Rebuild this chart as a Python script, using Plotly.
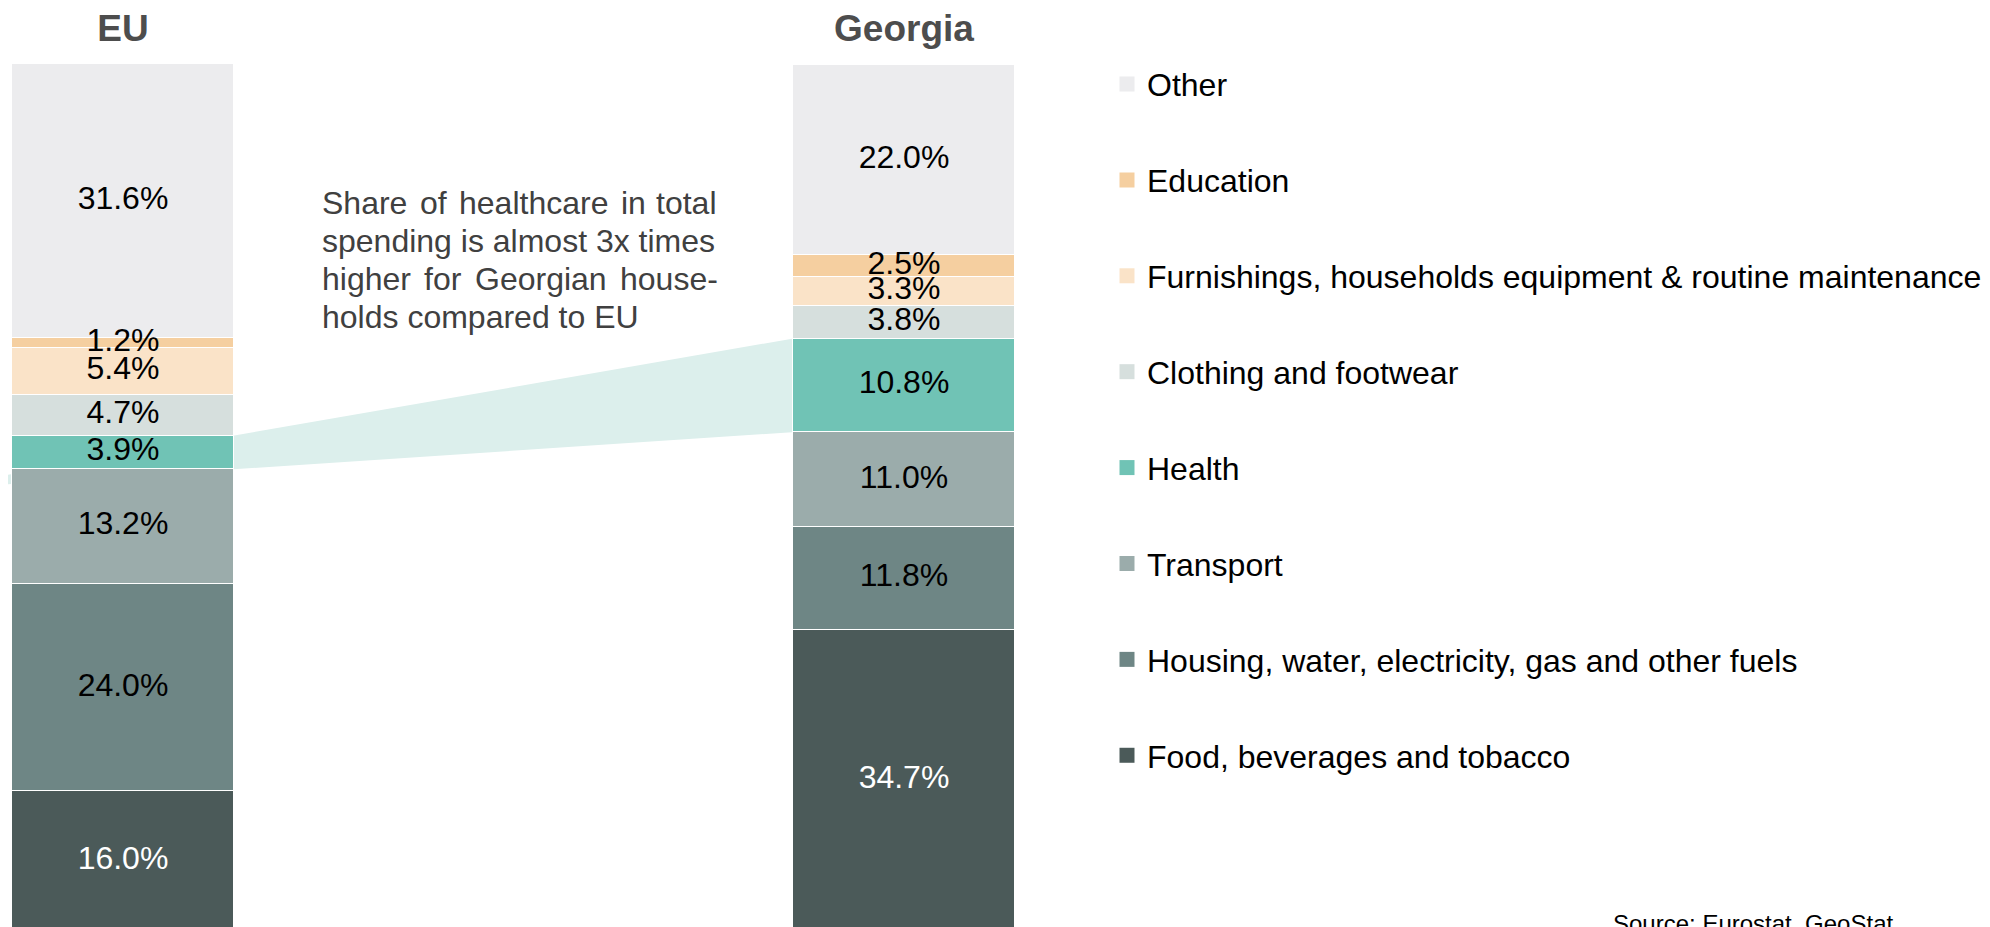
import plotly.graph_objects as go

# ---------------- data ----------------
regions = ["EU", "Georgia"]
series = [
    "Food, beverages and tobacco",
    "Housing, water, electricity, gas and other fuels",
    "Transport",
    "Health",
    "Clothing and footwear",
    "Furnishings, households equipment & routine maintenance",
    "Education",
    "Other",
]
eu_values = [16.0, 24.0, 13.2, 3.9, 4.7, 5.4, 1.2, 31.6]
georgia_values = [34.7, 11.8, 11.0, 10.8, 3.8, 3.3, 2.5, 22.0]
colors = ["#4B5A59", "#6E8685", "#9BACAB", "#70C3B5", "#D6DFDD", "#FAE3C8", "#F5CFA0", "#ECECEE"]
label_colors = ["#ffffff", "#000000", "#000000", "#000000", "#000000", "#000000", "#000000", "#000000"]
note_lines = [
    ["Share", "of", "healthcare", "in", "total"],
    ["spending is almost 3x times"],
    ["higher", "for", "Georgian", "house-"],
    ["holds compared to EU"],
]
source_text = "Source: Eurostat, GeoStat"

# ---------------- layout constants ----------------
OFF = 8                      # default page body margin
W, H = 1990 - OFF, 927 - OFF
TOP = 62 - OFF
FONT = "Liberation Sans, Arial, sans-serif"
BAR_W = 0.2843
UNIT = 781.0                 # px per category step
XR = [-(123 - OFF) / UNIT, (W - (123 - OFF)) / UNIT]
YR = [0.35, 100]

xs = list(range(len(regions)))
values = [eu_values, georgia_values]

fig = go.Figure()

# stacked bars
for i, name in enumerate(series):
    fig.add_trace(go.Bar(
        x=xs, y=[v[i] for v in values], name=name, width=BAR_W,
        marker=dict(color=colors[i], line=dict(color="white", width=1.2)),
        showlegend=False, hoverinfo="skip",
    ))

# value labels (drawn above all bars)
lx, ly, lt, lc = [], [], [], []
for r, vals in enumerate(values):
    cum = 0
    for i, v in enumerate(vals):
        lx.append(xs[r]); ly.append(cum + v / 2); lt.append(f"{v:.1f}%"); lc.append(label_colors[i])
        cum += v
fig.add_trace(go.Scatter(
    x=lx, y=ly, text=lt, mode="text", textposition="middle center",
    textfont=dict(family=FONT, size=32, color=lc), showlegend=False, hoverinfo="skip",
))

# legend entries (top to bottom: Other ... Food)
for i in reversed(range(len(series))):
    fig.add_trace(go.Scatter(
        x=[None], y=[None], mode="markers", name=series[i], legendgroup=series[i],
        marker=dict(symbol="square", size=15, color=colors[i]),
    ))

# connector polygon between the two Health segments
hi = series.index("Health")
def seg(vals, k):
    b = sum(vals[:k]); return b, b + vals[k]
eb, et = seg(eu_values, hi)
gb, gt = seg(georgia_values, hi)
x0, x1 = xs[0] + BAR_W / 2, xs[1] - BAR_W / 2
def line(ya, yb, x):
    return ya + (yb - ya) * (x - x0) / (x1 - x0)
xl, xr = XR[0], xs[1]
path = (f"M{xl},{line(et, gt, xl)} L{xr},{line(et, gt, xr)} "
        f"L{xr},{line(eb, gb, xr)} L{xl},{line(eb, gb, xl)} Z")
fig.add_shape(type="path", path=path, xref="x", yref="y", layer="below",
              fillcolor="#DCEFEC", line=dict(width=0))

# annotation text (justified by word placement); page pixel coordinates
def px_to_paper_x(px): return (px - OFF) / W
def py_to_paper_y(py): return 1 - (py - 62) / (927 - 62)
word_x = [
    [320, 417.5, 457, 618.6, 654],
    [320],
    [320, 422, 473, 617.5],
    [320],
]
line_y = [201, 239.5, 277.5, 316]
for li, words in enumerate(note_lines):
    for wi, w in enumerate(words):
        fig.add_annotation(
            x=px_to_paper_x(word_x[li][wi]), y=py_to_paper_y(line_y[li]),
            xref="paper", yref="paper", text=w, showarrow=False,
            xanchor="left", yanchor="middle",
            font=dict(family=FONT, size=32, color="#404040"),
        )

fig.add_annotation(
    x=px_to_paper_x(1611), y=py_to_paper_y(923.6), xref="paper", yref="paper",
    text=source_text, showarrow=False, xanchor="left", yanchor="middle",
    font=dict(family=FONT, size=24, color="#000000"),
)

fig.update_layout(
    width=W, height=H,
    margin=dict(l=0, r=0, t=TOP, b=0, pad=0),
    barmode="stack", bargap=0,
    plot_bgcolor="white", paper_bgcolor="white",
    font=dict(family=FONT),
    xaxis=dict(range=XR, tickvals=xs, ticktext=regions, side="top",
               showgrid=False, zeroline=False, showline=False, ticks="",
               tickfont=dict(family=FONT, size=37, color="#4D4D4D", weight="bold"),
               ticklabelstandoff=15, fixedrange=True),
    yaxis=dict(range=YR, visible=False, showgrid=False, zeroline=False, fixedrange=True),
    legend=dict(x=(1107 - OFF) / W, y=py_to_paper_y(418.5), xanchor="left", yanchor="middle",
                font=dict(family=FONT, size=32, color="#000000"),
                tracegroupgap=51.3, traceorder="grouped", bgcolor="rgba(0,0,0,0)",
                itemsizing="trace"),
    showlegend=True,
)

fig.write_html("out.html")
